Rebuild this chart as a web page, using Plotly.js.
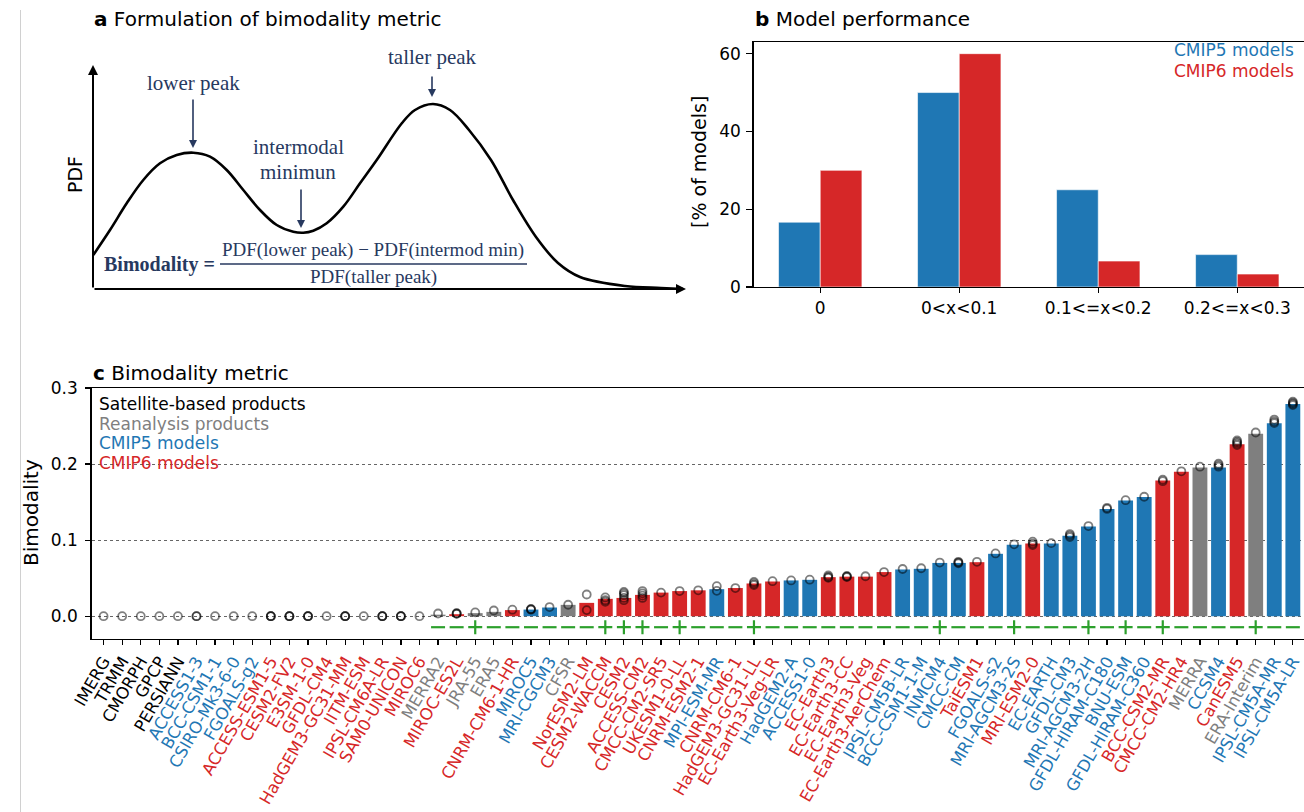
<!DOCTYPE html>
<html>
<head>
<meta charset="utf-8">
<script src="https://cdn.plot.ly/plotly-3.0.1.min.js"></script>
<style>html,body{margin:0;padding:0;background:#fff;}#chart{width:1304px;height:812px;}</style>
</head>
<body>
<div id="chart"></div>
<script>
// ---------- Panel c data ----------
const categories = ["IMERG","TRMM","CMORPH","GPCP","PERSIANN","ACCESS1-3","BCC-CSM1-1","CSIRO-Mk3-6-0","FGOALS-g2",
  "ACCESS-ESM1-5","CESM2-FV2","E3SM-1-0","GFDL-CM4","HadGEM3-GC31-MM","IITM-ESM","IPSL-CM6A-LR","SAM0-UNICON","MIROC6",
  "MERRA2","MIROC-ES2L","JRA-55","ERA5","CNRM-CM6-1-HR","MIROC5","MRI-CGCM3","CFSR","NorESM2-LM","CESM2-WACCM","CESM2",
  "ACCESS-CM2","CMCC-CM2-SR5","UKESM1-0-LL","CNRM-ESM2-1","MPI-ESM-MR","CNRM-CM6-1","HadGEM3-GC31-LL","EC-Earth3-Veg-LR",
  "HadGEM2-A","ACCESS1-0","EC-Earth3","EC-Earth3-CC","EC-Earth3-Veg","EC-Earth3-AerChem","IPSL-CM5B-LR","BCC-CSM1-1-M",
  "INMCM4","CMCC-CM","TaiESM1","FGOALS-s2","MRI-AGCM3-2S","MRI-ESM2-0","EC-EARTH","GFDL-CM3","MRI-AGCM3-2H",
  "GFDL-HIRAM-C180","BNU-ESM","GFDL-HIRAM-C360","BCC-CSM2-MR","CMCC-CM2-HR4","MERRA","CCSM4","CanESM5","ERA-Interim",
  "IPSL-CM5A-MR","IPSL-CM5A-LR"];
const groups = ["sat","sat","sat","sat","sat","c5","c5","c5","c5",
  "c6","c6","c6","c6","c6","c6","c6","c6","c6",
  "rea","c6","rea","rea","c6","c5","c5","rea","c6","c6","c6",
  "c6","c6","c6","c6","c5","c6","c6","c6",
  "c5","c5","c6","c6","c6","c6","c5","c5",
  "c5","c5","c6","c5","c5","c6","c5","c5","c5",
  "c5","c5","c5","c6","c6","rea","c5","c6","rea",
  "c5","c5"];
const bimodality = [0,0,0,0,0,0,0,0,0,
  0,0,0,0,0,0,0,0,0,
  0.002,0.0026,0.004,0.0057,0.008,0.0087,0.0114,0.0149,0.0175,0.0228,0.024,
  0.028,0.031,0.033,0.034,0.0355,0.037,0.043,0.0456,
  0.047,0.0478,0.0513,0.052,0.052,0.058,0.0614,0.0623,
  0.070,0.070,0.071,0.082,0.094,0.0956,0.0956,0.1057,0.118,
  0.141,0.152,0.1566,0.1785,0.190,0.1956,0.1956,0.226,0.240,
  0.2535,0.279];
const memberValues = [[0],[0],[0],[0],[0],[0,0],[0],[0],[0],
  [0,0,0],[0,0,0],[0,0,0],[0],[0,0,0],[0],[0,0,0],[0,0,0],[0],
  [0.0035],[0.003,0.0035,0.004],[0.005],[0.0075],[0.0085],[0.0085,0.009,0.0095],[0.012],[0.015],[0.0285,0.008],[0.0246,0.021,0.019],[0.032,0.030,0.0276,0.024,0.021],
  [0.033,0.030,0.027,0.024],[0.031],[0.033],[0.034],[0.0395,0.0333],[0.037],[0.045,0.043,0.041],[0.046],
  [0.047],[0.048],[0.0535,0.0515,0.0505],[0.053,0.052,0.0515],[0.0525],[0.058],[0.062],[0.063],
  [0.0705],[0.0715,0.0705,0.0695],[0.0715],[0.0825],[0.0945],[0.098,0.0955,0.0935],[0.096],[0.108,0.106,0.104],[0.1185],
  [0.1425,0.141],[0.1525],[0.157],[0.1795,0.1775],[0.1905],[0.1965],[0.2005,0.1985,0.1965],[0.231,0.229,0.227,0.225],[0.2415],
  [0.2585,0.256,0.254],[0.282,0.2805,0.279,0.2775]];
const signs = ["","","","","","","","","","","","","","","","","","",
  "-","-","+","-","-","-","-","-","-","+","+",
  "+","-","+","-","-","-","+","-",
  "-","-","-","-","-","-","-","-",
  "+","-","-","-","+","-","-","-","+",
  "-","+","-","+","-","-","-","-","+",
  "-","-"];
const groupColors = {sat:"#000000", rea:"#7f7f7f", c5:"#1f77b4", c6:"#d62728"};
const groupNames = ["Satellite-based products","Reanalysis products","CMIP5 models","CMIP6 models"];
const groupKeys = ["sat","rea","c5","c6"];

// ---------- Panel b data ----------
const perfBins = ["0","0<x<0.1","0.1<=x<0.2","0.2<=x<0.3"];
const cmip5Pct = [16.67, 50, 25, 8.33];
const cmip6Pct = [30, 60, 6.67, 3.33];

// ---------- Panel a schematic curve (arbitrary units) ----------
const curveX = [0.3,17,33.7,50.3,67,83.7,100.3,117,133.7,150.3,167,183.7,200.3,210.3,220.3,233.7,250.3,267,283.7,309,322,340,357,376,398,420,443,465,487,532,568,590];
const curveY = [34,59,85.7,109,125.7,134,136.3,132.3,119,99,79,64,57.3,56.3,58.3,65.7,82.3,105.7,129,166,179,185,179,159,129,89,52,26,12,3,1,0];

const W = 1304, H = 812;
const px = v => v / W;
const py = v => 1 - v / H;
const navy = "#27395f";
const green = "#2ca02c";
const signLevel = -0.0145;

// traces
const barColors = groups.map(g => groupColors[g]);
const barTrace = {type:"bar", x:categories, y:bimodality, xaxis:"x", yaxis:"y",
  marker:{color:barColors, line:{width:0}}, width:0.8, hoverinfo:"x+y"};

const cx = [], cy = [];
memberValues.forEach((arr, i) => arr.forEach(v => { cx.push(categories[i]); cy.push(v); }));
const circleTrace = {type:"scatter", mode:"markers", x:cx, y:cy, xaxis:"x", yaxis:"y",
  marker:{symbol:"circle-open", size:8, color:"rgba(0,0,0,0.5)", line:{width:1.8, color:"rgba(0,0,0,0.5)"}}, cliponaxis:false};

const sx = [], sy = [], ss = [];
signs.forEach((s, i) => { if (s) { sx.push(categories[i]); sy.push(signLevel); ss.push(s === "+" ? "cross-thin-open" : "line-ew-open"); } });
const signTrace = {type:"scatter", mode:"markers", x:sx, y:sy, xaxis:"x", yaxis:"y",
  marker:{symbol:ss, size:10, color:green, line:{width:2.2, color:green}}};

const b5 = {type:"bar", x:perfBins, y:cmip5Pct, xaxis:"x2", yaxis:"y2", marker:{color:"#1f77b4", line:{width:0.6,color:"#ffffff"}}, width:0.3, offset:-0.3, name:"CMIP5 models"};
const b6 = {type:"bar", x:perfBins, y:cmip6Pct, xaxis:"x2", yaxis:"y2", marker:{color:"#d62728", line:{width:0.6,color:"#ffffff"}}, width:0.3, offset:0, name:"CMIP6 models"};

const curveTrace = {type:"scatter", mode:"lines", x:curveX, y:curveY, xaxis:"x3", yaxis:"y3",
  line:{color:"#000", width:2.6, shape:"spline", smoothing:1}, hoverinfo:"skip", cliponaxis:false};

const tickText = categories.map((c, i) => `<span style="color:${groupColors[groups[i]]}">${c}</span>`);

const annotations = [
  // panel titles
  {xref:"paper", yref:"paper", x:px(92), y:py(19), xanchor:"left", yanchor:"middle", showarrow:false,
   text:"<b>a</b> Formulation of bimodality metric", font:{size:20}},
  {xref:"paper", yref:"paper", x:px(753), y:py(19), xanchor:"left", yanchor:"middle", showarrow:false,
   text:"<b>b</b> Model performance", font:{size:20}},
  {xref:"paper", yref:"paper", x:px(91), y:py(373), xanchor:"left", yanchor:"middle", showarrow:false,
   text:"<b>c</b> Bimodality metric", font:{size:20}},
  // axis titles
  {xref:"paper", yref:"paper", x:px(31), y:py(513), xanchor:"center", yanchor:"middle", showarrow:false,
   text:"Bimodality", textangle:-90, font:{size:20}},
  {xref:"paper", yref:"paper", x:px(699), y:py(162), xanchor:"center", yanchor:"middle", showarrow:false,
   text:"[% of models]", textangle:-90, font:{size:19}},
  {xref:"paper", yref:"paper", x:px(75), y:py(175), xanchor:"center", yanchor:"middle", showarrow:false,
   text:"PDF", textangle:-90, font:{size:19}},
  // panel b legend
  {xref:"paper", yref:"paper", x:px(1296), y:py(50), xanchor:"right", yanchor:"middle", showarrow:false,
   text:"CMIP5 models", font:{size:17, color:"#1f77b4"}},
  {xref:"paper", yref:"paper", x:px(1296), y:py(71), xanchor:"right", yanchor:"middle", showarrow:false,
   text:"CMIP6 models", font:{size:17, color:"#d62728"}},
];
// panel c legend
groupNames.forEach((n, i) => annotations.push({xref:"paper", yref:"paper", x:px(97), y:py(404 + i*19.7),
  xanchor:"left", yanchor:"middle", showarrow:false, text:n, font:{size:17, color:groupColors[groupKeys[i]]}}));

// panel a schematic labels & arrows
const serif = "Liberation Serif, Times New Roman, serif";
annotations.push(
  {xref:"x3", yref:"y3", x:100, y:206, showarrow:false, text:"lower peak", font:{family:serif, size:21, color:navy}},
  {xref:"x3", yref:"y3", x:339, y:232, showarrow:false, text:"taller peak", font:{family:serif, size:21, color:navy}},
  {xref:"x3", yref:"y3", x:205, y:142, showarrow:false, text:"intermodal", font:{family:serif, size:21, color:navy}},
  {xref:"x3", yref:"y3", x:205, y:117, showarrow:false, text:"minimun", font:{family:serif, size:21, color:navy}},
  {xref:"x3", yref:"y3", x:100, y:141, ax:100, ay:191, axref:"x3", ayref:"y3", text:"", showarrow:true,
   arrowhead:2, arrowsize:1, arrowwidth:1.6, arrowcolor:navy, standoff:0},
  {xref:"x3", yref:"y3", x:208, y:61, ax:208, ay:101, axref:"x3", ayref:"y3", text:"", showarrow:true,
   arrowhead:2, arrowsize:1, arrowwidth:1.6, arrowcolor:navy, standoff:0},
  {xref:"x3", yref:"y3", x:339, y:192, ax:339, ay:214, axref:"x3", ayref:"y3", text:"", showarrow:true,
   arrowhead:2, arrowsize:1, arrowwidth:1.6, arrowcolor:navy, standoff:0},
  {xref:"x3", yref:"y3", x:66, y:25, showarrow:false, text:"<b>Bimodality =</b>", font:{family:serif, size:20, color:navy}},
  {xref:"x3", yref:"y3", x:280, y:39, showarrow:false, text:"PDF(lower peak) \u2212 PDF(intermod min)", font:{family:serif, size:19, color:navy}},
  {xref:"x3", yref:"y3", x:280, y:12, showarrow:false, text:"PDF(taller peak)", font:{family:serif, size:19, color:navy}},
  // axis arrows
  {xref:"x3", yref:"y3", x:0, y:224, ax:0, ay:0, axref:"x3", ayref:"y3", text:"", showarrow:true,
   arrowhead:2, arrowsize:1, arrowwidth:2, arrowcolor:"#000", standoff:0},
  {xref:"x3", yref:"y3", x:593, y:0, ax:0, ay:0, axref:"x3", ayref:"y3", text:"", showarrow:true,
   arrowhead:2, arrowsize:1, arrowwidth:2, arrowcolor:"#000", standoff:0}
);

const shapes = [
  {type:"line", xref:"x3", yref:"y3", x0:127, x1:434, y0:25, y1:25, line:{color:navy, width:1.6}},
  {type:"line", xref:"paper", yref:"paper", x0:px(20.5), x1:px(20.5), y0:py(10), y1:0, line:{color:"#d0d0d0", width:1}}
];

const axisCommon = {showline:true, linecolor:"#000", linewidth:1.3, mirror:true, ticks:"outside", ticklen:5,
  tickwidth:1.2, tickcolor:"#000", showgrid:false, zeroline:false, tickfont:{size:17, color:"#000"}};

const layout = {
  width:W, height:H, margin:{l:0, r:0, t:0, b:0}, paper_bgcolor:"#fff", plot_bgcolor:"rgba(0,0,0,0)",
  showlegend:false, barmode:"overlay", font:{family:"DejaVu Sans", size:17, color:"#000"},
  xaxis: Object.assign({}, axisCommon, {domain:[px(91.5), 1], anchor:"y", type:"category", range:[-0.65, 64.6],
    tickmode:"array", tickvals:categories, ticktext:tickText, tickangle:-60, automargin:false, tickfont:{size:16.5}}),
  yaxis: Object.assign({}, axisCommon, {domain:[py(639), py(388)], anchor:"x", range:[-0.03, 0.3],
    tickmode:"array", tickvals:[0, 0.1, 0.2, 0.3], ticktext:["0.0","0.1","0.2","0.3"], ticklabelstandoff:4,
    showgrid:true, gridcolor:"#555", griddash:"dot", gridwidth:0.9, automargin:false}),
  xaxis2: Object.assign({}, axisCommon, {domain:[px(753.5), 1], anchor:"y2", type:"category", range:[-0.48, 3.48], automargin:false}),
  yaxis2: Object.assign({}, axisCommon, {domain:[py(287), py(42)], anchor:"x2", range:[0, 63],
    tickmode:"array", tickvals:[0, 20, 40, 60], ticklen:6, ticklabelstandoff:2, automargin:false}),
  xaxis3: {domain:[px(93), px(685)], anchor:"y3", range:[0, 592], visible:false, fixedrange:true},
  yaxis3: {domain:[py(289), py(40)], anchor:"x3", range:[0, 249], visible:false, fixedrange:true},
  annotations: annotations,
  shapes: shapes
};

Plotly.newPlot("chart", [barTrace, circleTrace, signTrace, b5, b6, curveTrace], layout, {staticPlot:true, displayModeBar:false});
</script>
</body>
</html>
